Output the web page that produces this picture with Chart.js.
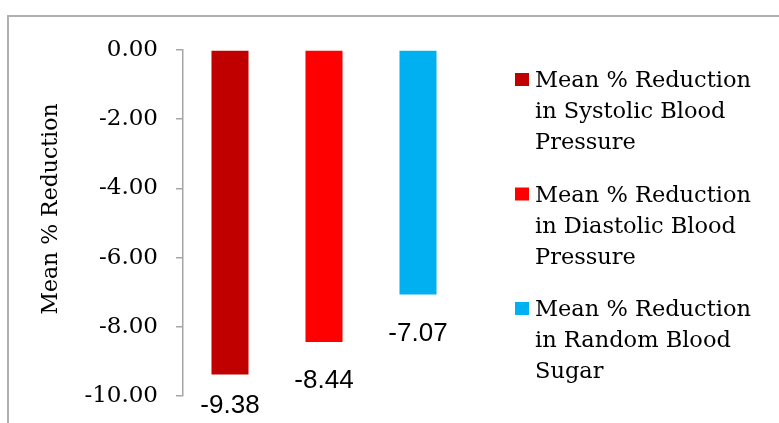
<!DOCTYPE html>
<html>
<head>
<meta charset="utf-8">
<script src="https://cdn.jsdelivr.net/npm/chart.js@4.4.1/dist/chart.umd.min.js"></script>
<style>
  html, body { margin: 0; padding: 0; background: #fff; overflow: hidden; }
  body { width: 779px; height: 423px; position: relative; }
  .frame {
    position: absolute; left: 7px; top: 15px; width: 900px; height: 600px;
    border-top: 2px solid #b0b0b0; border-left: 2px solid #b0b0b0;
  }
  #chart { position: absolute; left: 0; top: 0; }
</style>
</head>
<body>
<div class="frame"></div>
<canvas id="chart" width="779" height="423"></canvas>
<script>
(() => {
  // data
  const categories = [
    'Mean % Reduction in Systolic Blood Pressure',
    'Mean % Reduction in Diastolic Blood Pressure',
    'Mean % Reduction in Random Blood Sugar'
  ];
  const values = [-9.38, -8.44, -7.07];
  const colors = ['#c00000', '#ff0000', '#00b0f0'];
  const yTickValues = [0, -2, -4, -6, -8, -10];
  const yTitle = 'Mean % Reduction';

  const SERIF = '"DejaVu Serif", serif';
  const SANS = '"Liberation Sans", Arial, sans-serif';

  /**
   * value labels under each bar
   */
  const valueLabels = {
    id: 'valueLabels',
    afterDatasetsDraw(chart) {
      const { ctx, chartArea } = chart;
      const meta = chart.getDatasetMeta(0);
      ctx.save();
      ctx.font = `26px ${SANS}`;
      ctx.fillStyle = '#000';
      ctx.textAlign = 'center';
      ctx.textBaseline = 'middle';
      meta.data.forEach((bar, i) => {
        const y = Math.min(bar.y + 39, chartArea.bottom + 10);
        ctx.fillText(values[i].toFixed(2), bar.x, y);
      });
      ctx.restore();
    }
  };

  /**
   * legend on the right, wrapped text
   */
  const wrapText = (ctx, text, maxWidth) => {
    const words = text.split(' ');
    const lines = [];
    let cur = '';
    words.forEach(w => {
      const test = cur ? cur + ' ' + w : w;
      if (cur && ctx.measureText(test).width > maxWidth) {
        lines.push(cur);
        cur = w;
      } else {
        cur = test;
      }
    });
    if (cur) lines.push(cur);
    return lines;
  };

  const sideLegend = {
    id: 'sideLegend',
    afterDraw(chart) {
      const { ctx, chartArea } = chart;
      const x0 = chartArea.right + 50;
      const lineH = 31;
      const groupH = 114.5;
      ctx.save();
      ctx.font = `22.5px ${SERIF}`;
      ctx.textBaseline = 'alphabetic';
      ctx.textAlign = 'left';
      categories.forEach((label, i) => {
        const base = chartArea.top + 37 + i * groupH;
        ctx.fillStyle = colors[i];
        ctx.fillRect(x0, base - 14, 14, 13);
        ctx.fillStyle = '#000';
        wrapText(ctx, label, 225).forEach((line, j) => {
          ctx.fillText(line, x0 + 20, base + j * lineH);
        });
      });
      ctx.restore();
    }
  };

  new Chart(document.getElementById('chart'), {
    type: 'bar',
    data: {
      labels: categories,
      datasets: [{
        label: yTitle,
        data: values,
        backgroundColor: colors,
        borderWidth: 0,
        categoryPercentage: 1,
        barPercentage: 0.394
      }]
    },
    options: {
      responsive: false,
      animation: false,
      layout: { padding: { top: 50, right: 314, bottom: 27, left: 8 } },
      scales: {
        x: { display: false },
        y: {
          min: -10,
          max: 0,
          afterBuildTicks: (scale) => {
            scale.ticks = yTickValues.map(v => ({ value: v }));
          },
          afterFit: (scale) => {
            scale.width = 175;
            scale.paddingTop = 0;
            scale.paddingBottom = 0;
          },
          ticks: {
            padding: 18,
            color: '#000',
            font: { family: SERIF, size: 23 },
            callback: (v) => Number(v).toFixed(2)
          },
          grid: {
            drawOnChartArea: false,
            drawTicks: true,
            tickLength: 7,
            color: '#a6a6a6',
            lineWidth: 1.5
          },
          border: { display: true, color: '#a6a6a6', width: 1.5 },
          title: {
            display: true,
            text: '    ' + yTitle,
            color: '#000',
            font: { family: SERIF, size: 22 },
            padding: { top: 30, bottom: 0 }
          }
        }
      },
      plugins: {
        legend: { display: false },
        tooltip: { enabled: false }
      }
    },
    plugins: [valueLabels, sideLegend]
  });
})();
</script>
</body>
</html>
